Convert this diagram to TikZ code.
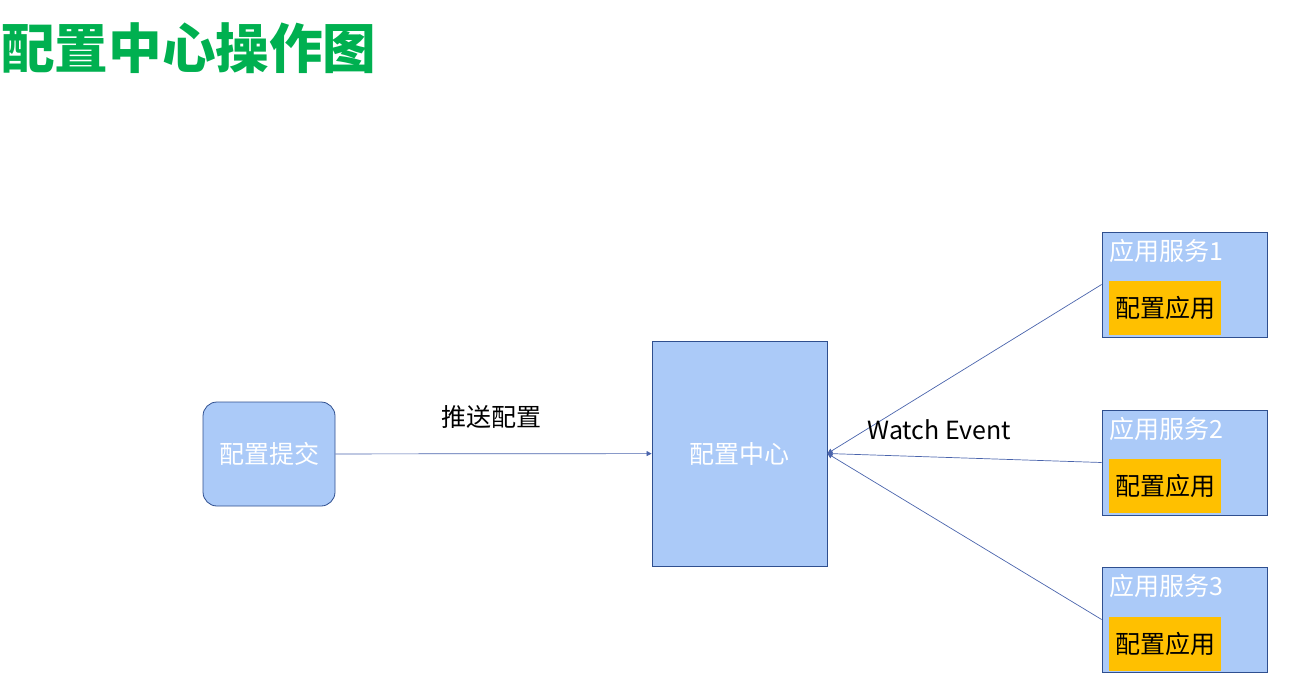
\documentclass[tikz,border=0pt]{standalone}
\usepackage{fontspec}
\setmainfont{Noto Sans CJK SC}
\usetikzlibrary{arrows.meta}
\definecolor{boxfill}{HTML}{ABCAF8}
\definecolor{boxline}{HTML}{2F4F8F}
\definecolor{linkblue}{HTML}{4A64AC}
\definecolor{titlegreen}{HTML}{00B050}
\definecolor{appfill}{HTML}{FFC000}

\begin{document}
\begin{tikzpicture}[x=1pt,y=-1pt,
  every node/.style={font=\fontsize{25}{29}\selectfont,inner sep=0pt},
  bluebox/.style={draw=boxline,fill=boxfill,line width=0.8pt,text=white},
  appbox/.style={bluebox,minimum width=165pt,minimum height=105pt},
  usebox/.style={fill=appfill,text=black,minimum width=112pt,minimum height=54pt},
  link/.style={draw=linkblue,line width=0.7pt,-{Triangle[length=5pt,width=5pt]}}]
\useasboundingbox (0,0) rectangle (1301,694);

\node[titlegreen,anchor=west,font=\fontsize{53.6}{58}\selectfont\bfseries] (title) at (1,48) {配置中心操作图};

\node[bluebox,rounded corners=14pt,minimum width=132pt,minimum height=104pt] (submit) at (269,454) {配置提交};
\node[bluebox,minimum width=175pt,minimum height=225pt] (center) at (739.5,453.5) {配置中心};

\node[appbox] (app1) at (1184.5,284.5) {};
\node[appbox] (app2) at (1184.5,462.5) {};
\node[appbox] (app3) at (1184.5,619.5) {};
\node[white,anchor=west] (app1t) at (1109,251) {应用服务1};
\node[white,anchor=west] (app2t) at (1109,429) {应用服务2};
\node[white,anchor=west] (app3t) at (1109,586) {应用服务3};
\node[usebox] (use1) at (1165,308) {配置应用};
\node[usebox] (use2) at (1165,486) {配置应用};
\node[usebox] (use3) at (1165,644) {配置应用};

\draw[link] (submit) -- (center);
\node (pushlabel) at (491,417) {推送配置};

\draw[link] (app1.west) -- (center.east);
\draw[link] (app2.west) -- (center.east);
\draw[link] (app3.west) -- (center.east);
\node (watchlabel) at (939.5,430) {Watch Event};
\end{tikzpicture}
\end{document}
